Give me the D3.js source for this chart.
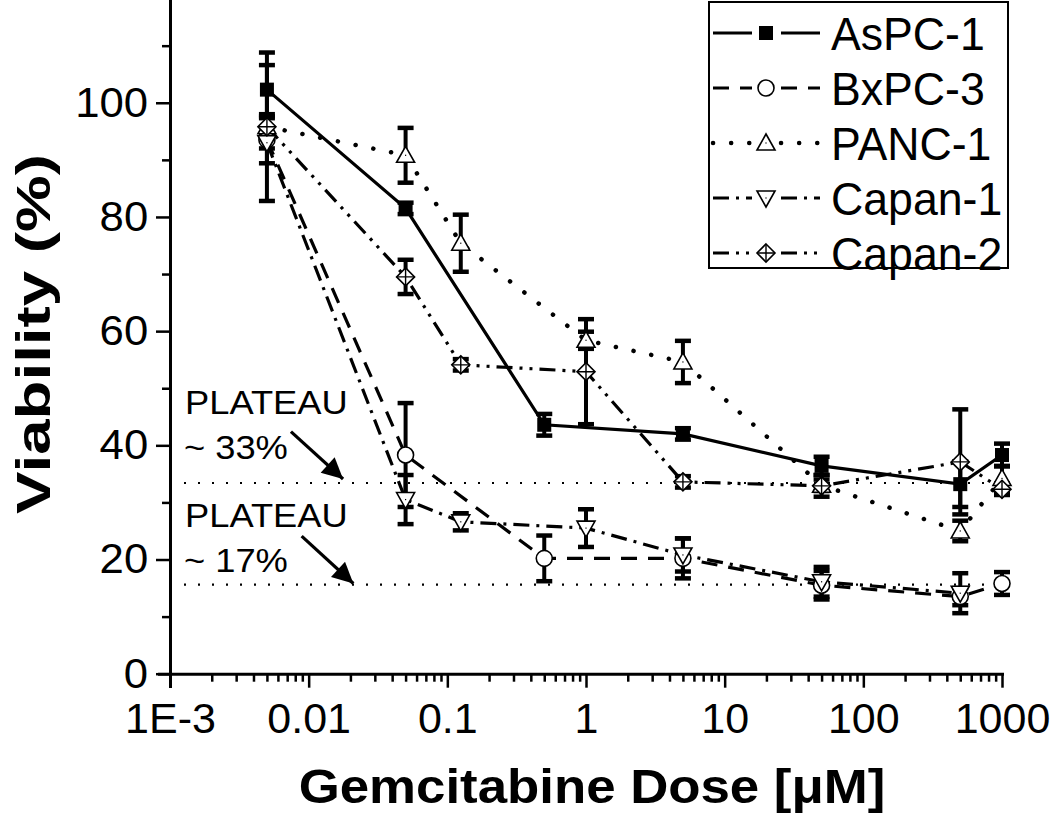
<!DOCTYPE html>
<html>
<head>
<meta charset="utf-8">
<script src="https://cdn.jsdelivr.net/npm/d3@7"></script>
<style>
  html, body { margin: 0; padding: 0; background: #fff; }
  svg { display: block; }
  text { font-family: "Liberation Sans", Arial, sans-serif; fill: #000; }
</style>
</head>
<body>
<svg id="chart" width="1050" height="813"></svg>
<script>
// ---------- data ----------
const doses = [0.005, 0.05, 0.125, 0.5, 1, 5, 50, 500, 1000];

const aspc1    = [102.3, 81.5, null, 43.6, null, 42.0, 36.4, 33.2, 38.3];
const aspc1Err = [4.3, 1.0, null, 1.9, null, 1.0, 1.6, 4.0, 2.0];

const bxpc3    = [93.5, 38.3, null, 20.2, null, 20.2, 15.5, 13.5, 15.8];
const bxpc3Err = [4.1, 9.1, null, 4.0, null, 3.5, 2.5, 1.5, 2.0];

const panc1    = [95.8, 90.8, 75.4, null, 58.4, 54.6, 33.0, 25.0, 34.2];
const panc1Err = [1.5, 4.8, 5.0, null, 1.5, 3.7, 1.0, 1.8, 2.2];

const capan1    = [93.0, 30.5, 26.6, null, 25.5, 20.8, 16.1, 14.1, null];
const capan1Err = [1.0, 4.3, 1.5, null, 3.3, 2.9, 2.6, 3.5, null];

const capan2    = [95.8, 69.5, 54.1, null, 52.9, 33.6, 32.9, 37.1, 32.3];
const capan2Err = [13.0, 3.0, 1.0, null, 9.2, 1.0, 1.9, 9.2, 1.0];

const seriesNames = ["AsPC-1", "BxPC-3", "PANC-1", "Capan-1", "Capan-2"];

const xMajorTicks = [1e-3, 1e-2, 1e-1, 1, 10, 100, 1000];
const xTickLabels = ["1E-3", "0.01", "0.1", "1", "10", "100", "1000"];
const yMajorTicks = [0, 20, 40, 60, 80, 100];
const yMinorTicks = [10, 30, 50, 70, 90, 110];

const plateaus = [33.4, 15.6];
const plateauLabels = [["PLATEAU", "~ 33%"], ["PLATEAU", "~ 17%"]];
// arrow [fromDose, fromValue, toDose, toValue]
const plateauArrows = [[0.00745, 42.4, 0.0177, 34.1], [0.0089, 24.1, 0.021, 15.8]];

const xLabel = "Gemcitabine Dose [\u03BCM]";
const yLabel = "Viability (%)";

// ---------- layout ----------
const svg = d3.select("#chart");
const x = d3.scaleLog().domain([1e-3, 1000]).range([170, 1002]);
const y = d3.scaleLinear().domain([0, 118]).range([673.7, 0]);

const styles = [
  { dash: null,                marker: "square" },
  { dash: "16,11",             marker: "circle" },
  { dash: "0.1,18",            marker: "triUp", cap: "round", width: 4.5 },
  { dash: "16,7,3,7",          marker: "triDown" },
  { dash: "16,7,3,7,3,7",      marker: "diamond" }
];

const allVals = [aspc1, bxpc3, panc1, capan1, capan2];
const allErrs = [aspc1Err, bxpc3Err, panc1Err, capan1Err, capan2Err];

const series = seriesNames.map((name, i) => ({
  name,
  style: styles[i],
  pts: doses.map((d, j) => ({ x: d, v: allVals[i][j], e: allErrs[i][j] }))
            .filter(p => p.v != null)
}));

// ---------- axes ----------
const minorX = [];
for (let e = -3; e < 3; e++) for (let k = 2; k <= 9; k++) minorX.push(k * Math.pow(10, e));

const gx = svg.append("g").attr("transform", "translate(0,673.7)");
gx.call(d3.axisBottom(x).tickValues(minorX).tickSize(8).tickFormat(""));
gx.call(g => g.select(".domain").remove());
const gx2 = svg.append("g").attr("transform", "translate(0,673.7)");
gx2.call(d3.axisBottom(x).tickValues(xMajorTicks).tickSize(14).tickSizeOuter(0)
   .tickPadding(15).tickFormat((d, i) => xTickLabels[i]));
[gx, gx2].forEach(g => {
  g.selectAll("line").attr("stroke", "#000").attr("stroke-width", 2.5);
  g.selectAll("path").attr("stroke", "#000").attr("stroke-width", 3);
});
gx2.select(".domain").attr("d", "M158,0.5H1004");
gx2.selectAll("text").attr("font-size", 43).attr("font-family", "Liberation Sans, Arial");

const gy = svg.append("g").attr("transform", "translate(170,0)");
gy.call(d3.axisLeft(y).tickValues(yMinorTicks).tickSize(8).tickFormat(""));
gy.call(g => g.select(".domain").remove());
const gy2 = svg.append("g").attr("transform", "translate(170,0)");
gy2.call(d3.axisLeft(y).tickValues(yMajorTicks).tickSize(14).tickSizeOuter(0)
   .tickPadding(7).tickFormat(d3.format("d")));
[gy, gy2].forEach(g => {
  g.selectAll("line").attr("stroke", "#000").attr("stroke-width", 2.5);
  g.selectAll("path").attr("stroke", "#000").attr("stroke-width", 3);
});
gy2.select(".domain").attr("d", "M0.5,0V688");
gy2.selectAll("text").attr("font-size", 42).attr("font-family", "Liberation Sans, Arial")
   .attr("transform", "scale(1.04,1)");

// axis titles
svg.append("text").attr("transform", "translate(592,803) scale(1.1,1)").attr("text-anchor", "middle")
  .attr("font-size", 48).attr("font-weight", "bold").text(xLabel);
svg.append("text").attr("transform", "translate(50,334) rotate(-90) scale(1.3,1)")
  .attr("text-anchor", "middle").attr("font-size", 49).attr("font-weight", "bold").text(yLabel);

// ---------- plateau lines & annotations ----------
plateaus.forEach(p => {
  svg.append("line").attr("x1", x(1e-3)).attr("x2", x(1000))
    .attr("y1", y(p)).attr("y2", y(p))
    .attr("stroke", "#000").attr("stroke-width", 2.2)
    .attr("stroke-dasharray", "2,12");
});
const labelTop = [390, 503];
plateauLabels.forEach((lab, i) => {
  svg.append("text").attr("transform", `translate(185,${labelTop[i] + 24}) scale(1.1,1)`)
    .attr("font-size", 33).text(lab[0]);
  svg.append("text").attr("transform", `translate(184,${labelTop[i] + 69}) scale(1.1,1)`)
    .attr("font-size", 33).text(lab[1]);
});
svg.append("defs").append("marker").attr("id", "arrow")
  .attr("viewBox", "0 0 10 10").attr("refX", 10).attr("refY", 5)
  .attr("markerWidth", 7.5).attr("markerHeight", 6.5).attr("markerUnits", "strokeWidth")
  .attr("orient", "auto")
  .append("path").attr("d", "M0,0L10,5L0,10z").attr("fill", "#000");
plateauArrows.forEach(a => {
  svg.append("line")
    .attr("x1", x(a[0])).attr("y1", y(a[1])).attr("x2", x(a[2])).attr("y2", y(a[3]))
    .attr("stroke", "#000").attr("stroke-width", 3.2).attr("marker-end", "url(#arrow)");
});

// ---------- markers ----------
function drawMarker(g, type, cx, cy) {
  if (type === "square") {
    g.append("rect").attr("x", cx - 7).attr("y", cy - 7).attr("width", 14).attr("height", 14)
      .attr("fill", "#000");
  } else if (type === "circle") {
    g.append("circle").attr("cx", cx).attr("cy", cy).attr("r", 8)
      .attr("fill", "#fff").attr("stroke", "#000").attr("stroke-width", 1.6);
  } else if (type === "triUp") {
    g.append("path").attr("d", `M${cx},${cy - 9}L${cx + 9},${cy + 7}L${cx - 9},${cy + 7}Z`)
      .attr("fill", "#fff").attr("stroke", "#000").attr("stroke-width", 1.6);
    g.append("rect").attr("x", cx - 0.6).attr("y", cy - 0.6).attr("width", 1.2).attr("height", 1.2).attr("fill", "#000");
  } else if (type === "triDown") {
    g.append("path").attr("d", `M${cx},${cy + 9}L${cx + 9},${cy - 7}L${cx - 9},${cy - 7}Z`)
      .attr("fill", "#fff").attr("stroke", "#000").attr("stroke-width", 1.6);
    g.append("rect").attr("x", cx - 0.6).attr("y", cy - 0.6).attr("width", 1.2).attr("height", 1.2).attr("fill", "#000");
  } else if (type === "diamond") {
    g.append("path").attr("d", `M${cx},${cy - 9}L${cx + 9},${cy}L${cx},${cy + 9}L${cx - 9},${cy}Z`)
      .attr("fill", "#fff").attr("stroke", "#000").attr("stroke-width", 1.6);
    g.append("path").attr("d", `M${cx - 9},${cy}H${cx + 9}M${cx},${cy - 9}V${cy + 9}`)
      .attr("stroke", "#000").attr("stroke-width", 1.4);
  }
}

// ---------- lines ----------
const lineGen = d3.line().x(p => x(p.x)).y(p => y(p.v));
const gLines = svg.append("g");
series.forEach(s => {
  gLines.append("path").attr("d", lineGen(s.pts)).attr("fill", "none")
    .attr("stroke", "#000").attr("stroke-width", s.style.width || 3.2)
    .attr("stroke-linecap", s.style.cap || "butt")
    .attr("stroke-dasharray", s.style.dash);
});

// ---------- error bars ----------
const gErr = svg.append("g");
series.forEach(s => {
  s.pts.forEach(p => {
    const cx = x(p.x), y1 = y(p.v + p.e), y2 = y(p.v - p.e);
    gErr.append("line").attr("x1", cx).attr("x2", cx).attr("y1", y1).attr("y2", y2)
      .attr("stroke", "#000").attr("stroke-width", 4);
    [y1, y2].forEach(yy => gErr.append("line").attr("x1", cx - 8).attr("x2", cx + 8)
      .attr("y1", yy).attr("y2", yy).attr("stroke", "#000").attr("stroke-width", 4.5));
  });
});

// ---------- point markers ----------
const gMk = svg.append("g");
series.forEach(s => s.pts.forEach(p => drawMarker(gMk, s.style.marker, x(p.x), y(p.v))));

// ---------- legend ----------
const leg = svg.append("g");
leg.append("rect").attr("x", 709).attr("y", 2).attr("width", 299).attr("height", 266)
  .attr("fill", "#fff").attr("stroke", "#000").attr("stroke-width", 2);
series.forEach((s, i) => {
  const cy = 33 + i * 55;
  [[713, 752], [781, 820]].forEach(seg => {
    leg.append("line").attr("x1", seg[0]).attr("x2", seg[1]).attr("y1", cy).attr("y2", cy)
      .attr("stroke", "#000").attr("stroke-width", s.style.width || 3.2)
      .attr("stroke-linecap", s.style.cap || "butt")
      .attr("stroke-dasharray", s.style.dash);
  });
  drawMarker(leg, s.style.marker, 766, cy);
  leg.append("text").attr("transform", `translate(831,${cy + 17}) scale(0.95,1)`)
    .attr("font-size", 47).text(s.name);
});
</script>
</body>
</html>
